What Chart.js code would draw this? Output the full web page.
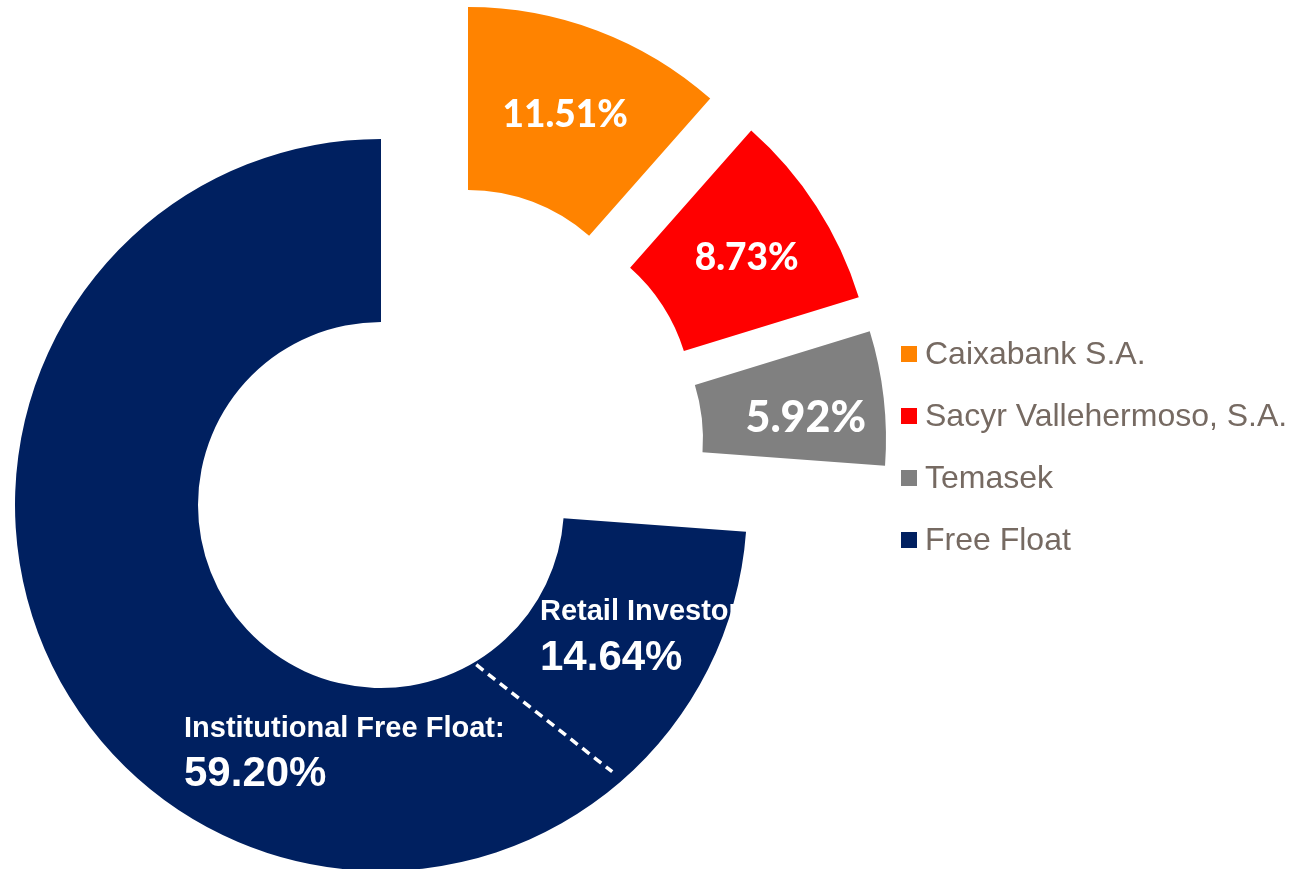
<!DOCTYPE html>
<html>
<head>
<meta charset="utf-8">
<title>Shareholder structure</title>
<script src="https://cdn.jsdelivr.net/npm/chart.js@4.4.1/dist/chart.umd.min.js"></script>
<style>
  html, body { margin: 0; padding: 0; background: #ffffff; }
  #wrap { position: relative; width: 1295px; height: 869px; }
</style>
</head>
<body>
<div id="wrap"><canvas id="shareChart"></canvas></div>
<script>
/* ── Data ───────────────────────────────────────────────────── */
const holders       = ['Caixabank S.A.', 'Sacyr Vallehermoso, S.A.', 'Temasek', 'Free Float'];
const holdings      = [11.51, 8.73, 5.92, 73.84];
const floatParts    = ['Retail Investor', 'Institutional Free Float:'];
const floatHoldings = [14.64, 59.20];

/* ── Style ──────────────────────────────────────────────────── */
const sliceColors = ['#ff8300', '#ff0000', '#808080', '#002060'];
const sliceShift  = [[87, -132], [128, -100], [139, -66], [0, 0]];  // exploded slices
const pctFont     = [37, 37, 43];
const pctNudge    = [[0, -1], [7, 2], [13, 10]];
const legendColor = '#766a62';

/* ── Plugins ────────────────────────────────────────────────── */
// push the exploded slices out (each one by its own vector, like the original)
const explodeSlices = {
  id: 'explodeSlices',
  afterDatasetUpdate(chart, args) {
    args.meta.data.forEach((arc, i) => {
      arc.x += sliceShift[i][0];
      arc.y += sliceShift[i][1];
    });
  }
};

const sliceLabels = {
  id: 'sliceLabels',
  afterDatasetsDraw(chart) {
    const ctx  = chart.ctx;
    const arcs = chart.getDatasetMeta(0).data;
    ctx.save();
    ctx.fillStyle = '#ffffff';

    // percentages on the three exploded slices
    ctx.textAlign = 'center';
    ctx.textBaseline = 'middle';
    for (let i = 0; i < 3; i++) {
      const p = arcs[i].getCenterPoint();
      ctx.font = `900 ${pctFont[i]}px Lato, "Open Sans", sans-serif`;
      ctx.fillText(holdings[i].toFixed(2) + '%', p.x + pctNudge[i][0], p.y + pctNudge[i][1]);
    }

    // free float: retail / institutional split
    const ff = arcs[3];
    const split = ff.startAngle + (ff.endAngle - ff.startAngle) * floatHoldings[0] / holdings[3];
    const deg = Math.PI / 180;
    const polar = (a, r) => ({ x: ff.x + Math.cos(a) * r, y: ff.y + Math.sin(a) * r });
    const a = polar(split + 2.3 * deg, ff.innerRadius + 3);
    const b = polar(split - 7.8 * deg, ff.outerRadius - 13);
    ctx.strokeStyle = '#ffffff';
    ctx.lineWidth = 3.5;
    ctx.setLineDash([9, 6]);
    ctx.beginPath();
    ctx.moveTo(a.x, a.y);
    ctx.lineTo(b.x, b.y);
    ctx.stroke();
    ctx.setLineDash([]);

    ctx.textAlign = 'left';
    ctx.textBaseline = 'alphabetic';
    ctx.font = 'bold 29px "Liberation Sans", Arial, sans-serif';
    ctx.fillText(floatParts[0], ff.x + 159, ff.y + 115);
    ctx.fillText(floatParts[1], ff.x - 197, ff.y + 232);
    ctx.font = 'bold 42px "Liberation Sans", Arial, sans-serif';
    ctx.fillText(floatHoldings[0].toFixed(2) + '%', ff.x + 159, ff.y + 165);
    ctx.fillText(floatHoldings[1].toFixed(2) + '%', ff.x - 197, ff.y + 281);

    // legend
    ctx.font = '32px "Liberation Sans", Arial, sans-serif';
    ctx.textBaseline = 'middle';
    holders.forEach((name, i) => {
      const y = 354 + i * 62;
      ctx.fillStyle = sliceColors[i];
      ctx.fillRect(901, y - 8, 16, 16);
      ctx.fillStyle = legendColor;
      ctx.fillText(name, 925, y + 1);
    });
    ctx.restore();
  }
};

/* ── Chart ──────────────────────────────────────────────────── */
new Chart(document.getElementById('shareChart'), {
  type: 'doughnut',
  data: {
    labels: holders,
    datasets: [{
      data: holdings,
      backgroundColor: sliceColors,
      borderWidth: 0,
      clip: false
    }]
  },
  options: {
    responsive: true,
    maintainAspectRatio: false,
    animation: false,
    events: [],
    radius: 366,
    cutout: '50%',
    layout: { padding: { left: 0, right: 533, top: 141, bottom: 0 } },
    plugins: {
      legend: { display: false },
      tooltip: { enabled: false }
    }
  },
  plugins: [explodeSlices, sliceLabels]
});
</script>
</body>
</html>
